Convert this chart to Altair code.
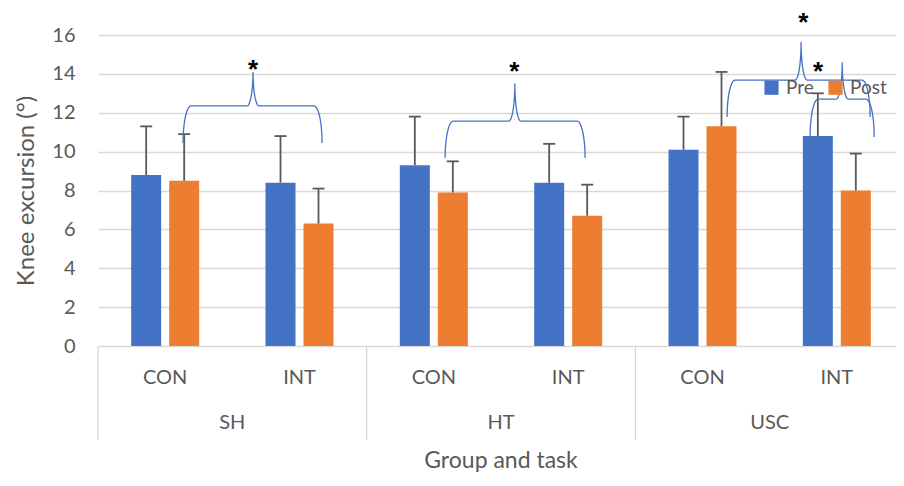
import altair as alt
import pandas as pd
import numpy as np

# ---------------- data ----------------
groups = ["SH", "SH", "HT", "HT", "USC", "USC"]
tasks = ["CON", "INT", "CON", "INT", "CON", "INT"]
group_names = ["SH", "HT", "USC"]
series = ["Pre", "Post"]
pre_mean = [8.8, 8.4, 9.3, 8.4, 10.1, 10.8]
post_mean = [8.5, 6.3, 7.9, 6.7, 11.3, 8.0]
pre_sd = [2.5, 2.4, 2.5, 2.0, 1.7, 2.2]
post_sd = [2.4, 1.8, 1.6, 1.6, 2.8, 1.9]
y_ticks = [0, 2, 4, 6, 8, 10, 12, 14, 16]

# significance braces (in data units: x = category index scale, y = degrees)
brace_x0 = [0.633, 2.584, 4.683, 5.301]
brace_x1 = [1.668, 3.626, 5.748, 5.778]
brace_xm = [1.154, 3.103, 5.234, 5.540]
brace_yb = [10.44, 9.67, 11.78, 10.75]
brace_yh = [12.35, 11.57, 13.68, 12.70]
brace_ytip = [14.10, 13.50, 15.64, 14.60]
star_x = [1.154, 3.10, 5.25, 5.36]
star_y = [14.45, 14.35, 16.87, 14.35]

BLUE = "#4472C4"
ORANGE = "#ED7D31"
GREY = "#595959"
GRID = "#D9D9D9"
FONT = "Lato"

px_per_unit = 806 / 6.0       # full 6 categories would need 806 px
W, H = 798, 311               # visible part of the plot (right edge cut as in the reference)
x_max = W / px_per_unit
off = 19 / px_per_unit
cap = 6 / px_per_unit

rows = []
for i in range(6):
    for s, m, sd, o in (("Pre", pre_mean[i], pre_sd[i], -off), ("Post", post_mean[i], post_sd[i], off)):
        xp = i + 0.5 + o
        rows.append(dict(group=groups[i], task=tasks[i], series=s, value=m,
                         top=m + sd, xpos=xp, xl=xp - cap, xr=xp + cap))
df = pd.DataFrame(rows)

# braces
brace_rows = []
rx = 8 / px_per_unit
rx2 = 6 / px_per_unit
t = np.linspace(0, np.pi / 2, 12)
for b in range(len(brace_x0)):
    x0, x1, xm = brace_x0[b], brace_x1[b], brace_xm[b]
    yb, yh, yt = brace_yb[b], brace_yh[b], brace_ytip[b]
    pts = []
    pts += list(zip(x0 + rx - rx * np.cos(t), yb + (yh - yb) * np.sin(t)))
    pts += list(zip(xm - rx2 + rx2 * np.sin(t), yt - (yt - yh) * np.cos(t)))
    pts += list(zip(xm + rx2 - rx2 * np.sin(t[::-1]), yt - (yt - yh) * np.cos(t[::-1])))
    pts += list(zip(x1 - rx + rx * np.cos(t[::-1]), yb + (yh - yb) * np.sin(t[::-1])))
    for k, (px, py) in enumerate(pts):
        brace_rows.append(dict(brace=b, order=k, x=px, y=py))
braces = pd.DataFrame(brace_rows)
stars = pd.DataFrame(dict(x=star_x, y=star_y, t=["*"] * len(star_x)))

xscale = alt.Scale(domain=[0, x_max], nice=False, zero=False, padding=0)
yscale = alt.Scale(domain=[0, 16], nice=False, padding=0)

y_axis = alt.Axis(values=y_ticks, title="Knee excursion (°)", grid=True,
                  gridColor=GRID, gridWidth=1.3, domain=False, ticks=False,
                  labelFontSize=20, labelColor=GREY, labelPadding=23, labelFont=FONT,
                  labelOverlap=False,
                  titleFontSize=24, titleColor=GREY, titleFontWeight="normal",
                  titleFont=FONT, titlePadding=13)


def X(f):
    return alt.X(f, type="quantitative", scale=xscale, axis=None)


def Y(f):
    return alt.Y(f, type="quantitative", scale=yscale, axis=y_axis)


bars = alt.Chart(df).mark_bar(size=30).encode(
    x=X("xpos"),
    y=Y("value"),
    color=alt.Color("series:N", scale=alt.Scale(domain=series, range=[BLUE, ORANGE]),
                    legend=alt.Legend(title=None, orient="none", legendX=664, legendY=43,
                                      direction="horizontal", symbolType="square",
                                      symbolSize=200, symbolStrokeWidth=0,
                                      labelFontSize=19, labelColor=GREY, labelFont=FONT,
                                      columnPadding=12, labelOffset=5)),
)

err = alt.Chart(df).mark_rule(color=GREY, strokeWidth=1.8).encode(
    x=X("xpos"), y=Y("value"), y2="top:Q")
caps = alt.Chart(df).mark_rule(color=GREY, strokeWidth=1.8).encode(
    x=X("xl"), x2="xr:Q", y=Y("top"))

brace_lines = alt.Chart(braces).mark_line(color=BLUE, strokeWidth=1.3).encode(
    x=X("x"), y=Y("y"), detail="brace:N", order="order:Q")

star_text = alt.Chart(stars).mark_text(fontSize=26, fontWeight="bold", color="black",
                                       baseline="middle", dy=5, font="Liberation Sans").encode(
    x=X("x"), y=Y("y"), text="t:N")

# category axis drawn by hand
task_df = pd.DataFrame(dict(x=[i + 0.5 for i in range(6)], t=tasks))
group_df = pd.DataFrame(dict(x=[1, 3, 5], t=group_names))
sep_df = pd.DataFrame(dict(x=[0, 2, 4]))
title_df = pd.DataFrame(dict(x=[3], t=["Group and task"]))

seps = alt.Chart(sep_df).mark_rule(color=GRID, strokeWidth=1.3).encode(
    x=X("x"), y=alt.value(H), y2=alt.value(H + 94))
task_lbl = alt.Chart(task_df).mark_text(fontSize=20, color=GREY, font=FONT, baseline="middle").encode(
    x=X("x"), y=alt.value(H + 32), text="t:N")
group_lbl = alt.Chart(group_df).mark_text(fontSize=20, color=GREY, font=FONT, baseline="middle").encode(
    x=X("x"), y=alt.value(H + 77), text="t:N")
x_title = alt.Chart(title_df).mark_text(fontSize=23, color=GREY, font=FONT, baseline="alphabetic").encode(
    x=X("x"), y=alt.value(H + 122), text="t:N")

chart = alt.layer(bars, seps, err, caps, brace_lines, star_text, task_lbl, group_lbl, x_title).properties(
    width=W, height=H,
    autosize=alt.AutoSizeParams(type="none"),
    padding={"left": 90, "top": 27, "right": 0, "bottom": 128},
).configure(background="white").configure_view(stroke=None)

chart.save("out.html", embed_options={"renderer": "svg", "actions": False})
